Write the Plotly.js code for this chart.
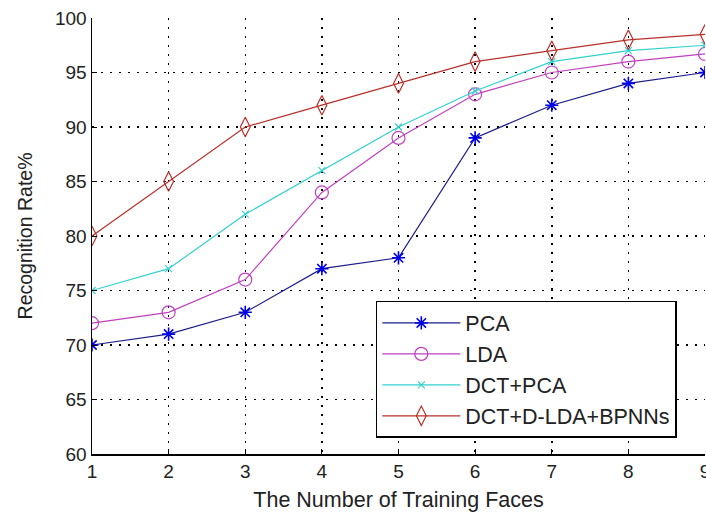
<!DOCTYPE html>
<html>
<head>
<meta charset="utf-8">
<script src="https://cdn.plot.ly/plotly-3.0.1.min.js"></script>
<style>html,body{margin:0;padding:0;background:#fff;}#chart{width:706px;height:513px;}</style>
</head>
<body>
<div id="chart"></div>
<script>
const trainingFaces = [1, 2, 3, 4, 5, 6, 7, 8, 9];
const pca = [70, 71, 73, 77, 78, 89, 92, 94, 95];
const lda = [72, 73, 76, 84, 89, 93, 95, 96, 96.7];
const dctPca = [75, 77, 82, 86, 90, 93.3, 96, 97, 97.5];
const dctDldaBpnn = [80, 85, 90, 92, 94, 96, 97, 98, 98.5];
const seriesNames = ['PCA', 'LDA', 'DCT+PCA', 'DCT+D-LDA+BPNNs'];
const yTicks = [60, 65, 70, 75, 80, 85, 90, 95, 100];

const FONT = 'Liberation Sans, Arial, sans-serif';

function tr(y, name, lineColor, markerColor, symbol, size, mw) {
  return {
    x: trainingFaces, y: y, name: name, type: 'scatter', mode: 'lines+markers',
    line: {color: lineColor, width: 1.2},
    marker: {symbol: symbol, size: size, color: markerColor, line: {color: markerColor, width: mw}}
  };
}

const data = [
  tr(pca, seriesNames[0], '#1c1c8c', '#0000e6', 'asterisk-open', 11, 1.6),
  tr(lda, seriesNames[1], '#c040c0', '#c040c0', 'circle-open', 13, 1.2),
  tr(dctPca, seriesNames[2], '#33d0d0', '#33d0d0', 'x-thin-open', 7, 1.2),
  tr(dctDldaBpnn, seriesNames[3], '#b8302a', '#b8302a', 'diamond-tall-open', 14, 1.2)
];

const layout = {
  width: 706, height: 513,
  margin: {l: 92, r: 1, t: 18, b: 59, pad: 0},
  paper_bgcolor: '#fff', plot_bgcolor: '#fff',
  font: {family: FONT, color: '#222', size: 19},
  showlegend: true,
  xaxis: {
    range: [1, 9], tickvals: trainingFaces, ticktext: trainingFaces.map(String),
    ticklabeloverflow: 'allow',
    showline: true, linecolor: '#000', linewidth: 1.5, mirror: false,
    ticks: 'inside', ticklen: 5, tickcolor: '#000', tickwidth: 1,
    showgrid: true, gridcolor: '#000', gridwidth: 1.5, griddash: '1.5px,7.5px',
    zeroline: false, tickfont: {size: 19, family: FONT, color: '#222'},
    title: {text: 'The Number of Training Faces', font: {size: 21.5, family: FONT, color: '#222'}, standoff: 10}
  },
  yaxis: {
    range: [60, 100], tickvals: yTicks, ticktext: yTicks.map(String),
    ticklabeloverflow: 'allow',
    showline: true, linecolor: '#000', linewidth: 1.5, mirror: false,
    ticks: 'inside', ticklen: 5, tickcolor: '#000', tickwidth: 1,
    showgrid: true, gridcolor: '#000', gridwidth: 1.5, griddash: '1.5px,7.5px',
    zeroline: false, tickfont: {size: 19, family: FONT, color: '#222'},
    title: {text: 'Recognition Rate%', font: {size: 19.5, family: FONT, color: '#222'}, standoff: 17}
  },
  legend: {
    x: 0.463, y: 0.351, xanchor: 'left', yanchor: 'top',
    bgcolor: '#fff', bordercolor: '#000', borderwidth: 1.5,
    font: {size: 21.5, family: FONT, color: '#222'},
    itemwidth: 78, tracegroupgap: 0
  }
};

Plotly.newPlot('chart', data, layout, {displayModeBar: false, staticPlot: true});
</script>
</body>
</html>
